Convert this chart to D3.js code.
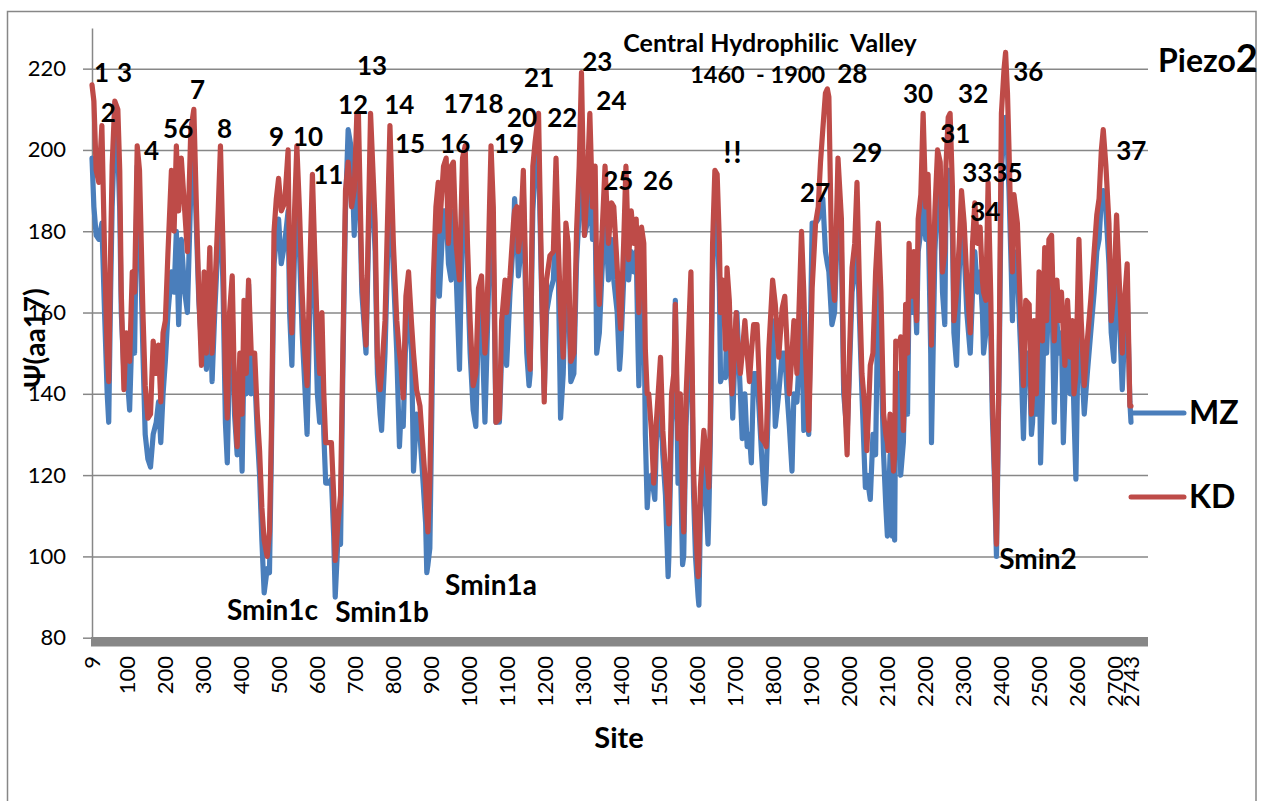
<!DOCTYPE html>
<html><head><meta charset="utf-8">
<script src="https://cdn.jsdelivr.net/npm/d3@7/dist/d3.min.js"></script>
<style>body{margin:0;background:#fff;} svg{display:block;}</style>
</head><body>
<script>
// ---- DATA ----
const sites = [
 // 9 - 683
 9,14,20,27,35,42,49,53,58,62,
 69,77,82,86,93,99,108,115,121,128,
 134,143,149,156,163,170,178,184,190,196,
 202,209,218,225,231,237,244,253,260,269,
 277,284,290,297,304,310,319,325,332,341,
 347,354,360,365,371,378,384,391,398,404,
 409,415,421,428,437,444,450,456,462,470,
 476,481,488,494,500,507,516,525,529,535,
 542,548,555,562,569,575,582,589,595,602,
 608,614,619,624,632,639,645,649,656,663,
 669,676,683,
 // 692 - 1376
 692,699,706,710,719,730,742,754,760,767,
 771,780,793,802,811,818,822,828,835,842,
 850,855,863,872,881,887,890,893,898,907,
 914,920,923,934,941,947,954,960,967,976,
 984,991,997,1004,1012,1019,1026,1034,1043,1048,
 1055,1059,1065,1072,1081,1087,1096,1100,1109,1118,
 1121,1127,1131,1137,1144,1153,1159,1162,1169,1175,
 1184,1192,1199,1205,1214,1223,1230,1236,1242,1249,
 1256,1262,1269,1277,1284,1291,1297,1305,1312,1319,
 1326,1333,1337,1344,1350,1359,1368,1376,
 // 1382 - 2064
 1382,1391,1397,1400,1408,1414,1421,1428,1435,1441,
 1446,1448,1455,1461,1465,1470,1474,1481,1487,1490,
 1494,1505,1511,1518,1525,1527,1534,1540,1544,1551,
 1557,1563,1566,1572,1579,1585,1592,1597,1604,1606,
 1610,1619,1630,1632,1636,1642,1648,1654,1660,1663,
 1669,1676,1680,1686,1693,1695,1704,1706,1715,1720,
 1727,1733,1739,1744,1750,1759,1765,1771,1779,1783,
 1790,1800,1807,1816,1825,1832,1838,1844,1851,1856,
 1864,1876,1882,1886,1895,1904,1913,1920,1926,1932,
 1939,1944,1948,1956,1963,1972,1981,1987,1996,2002,
 2009,2016,2022,2028,2035,2044,2048,2057,2064,
 // 2071 - 2743
 2071,2078,2085,2092,2098,2102,2104,2109,2115,2118,
 2121,2124,2133,2137,2144,2150,2155,2159,2165,2172,
 2179,2183,2190,2196,2203,2209,2216,2218,2227,2234,
 2241,2247,2253,2256,2262,2267,2273,2277,2284,2291,
 2297,2304,2311,2320,2326,2332,2339,2346,2352,2355,
 2361,2367,2374,2378,2384,2389,2396,2402,2409,2413,
 2418,2422,2428,2431,2435,2444,2453,2460,2466,2475,
 2481,2484,2488,2494,2501,2505,2510,2516,2521,2527,
 2534,2541,2548,2554,2560,2565,2569,2576,2583,2589,
 2593,2598,2606,2612,2620,2628,2637,2646,2653,2659,
 2665,2670,2677,2685,2691,2698,2705,2712,2720,2726,
 2733,2740,2743
];
const kd = [
 216,212,195,192,206,175,150,143,175,196,
 212,210,195,165,141,155,148,170,165,201,
 195,160,142,134,135,153,145,152,138,155,
 158,175,195,180,201,185,198,185,175,205,
 210,185,165,147,170,150,176,150,165,185,
 201,175,145,134,160,169,140,127,150,135,
 163,145,168,150,150,135,126,112,104,100,
 106,130,180,188,193,185,187,200,170,155,
 185,201,185,165,150,142,170,194,175,155,
 145,160,140,128,128,128,115,99,108,115,
 150,190,197,
 186,190,209,209,169,152,209,182,149,141,
 145,158,206,177,158,150,147,139,164,170,
 157,150,141,137,125,117,110,106,119,168,
 186,192,180,196,198,177,196,197,177,168,
 198,201,177,158,142,145,166,169,150,158,
 186,201,186,133,134,158,168,160,169,182,
 185,186,175,180,195,158,150,146,196,202,
 209,168,138,168,174,175,198,177,160,149,
 182,177,148,150,180,196,219,179,191,209,
 186,196,170,162,177,196,177,187,
 186,171,160,156,177,196,173,185,177,183,
 166,160,181,177,151,140,140,131,118,122,
 133,149,131,121,112,108,140,145,162,129,
 140,115,106,139,155,170,121,108,95,100,
 117,131,120,117,133,177,195,194,177,160,
 168,151,171,163,140,142,160,155,145,150,
 158,150,143,150,157,157,143,129,128,127,
 151,168,162,149,161,164,152,140,150,158,
 145,180,165,151,131,166,182,186,197,205,
 214,215,213,170,163,198,183,145,125,149,
 171,177,192,168,145,135,126,147,150,
 170,182,165,135,130,128,126,135,128,121,
 125,153,152,154,131,162,150,177,164,175,
 158,183,189,209,186,194,168,152,185,200,
 197,170,175,196,208,209,191,158,165,177,
 190,182,168,155,177,187,177,181,168,165,
 163,192,164,140,121,103,149,209,220,224,
 214,200,177,170,189,182,158,142,163,162,
 135,140,158,140,170,160,153,176,158,178,
 179,153,168,158,165,155,147,163,149,158,
 140,145,178,158,142,153,163,175,184,188,
 200,205,196,182,158,165,184,168,150,163,
 172,137,137
];
const mz = [
 198,186,179,178,182,160,140,133,165,186,
 205,200,185,160,145,148,136,158,150,196,
 185,150,130,124,122,130,133,138,128,140,
 148,160,170,165,180,157,178,165,160,190,
 200,180,163,152,160,146,165,143,160,178,
 190,165,133,123,150,160,135,125,140,121,
 150,140,167,140,145,130,120,104,91,97,
 96,125,172,178,183,172,177,185,160,147,
 175,195,175,155,142,130,160,185,165,140,
 133,150,130,118,118,119,105,90,104,103,
 145,185,205,
 200,179,195,200,165,150,200,175,145,135,
 131,150,195,170,150,127,135,132,155,160,
 150,121,135,130,117,108,96,98,102,160,
 175,180,164,185,185,172,168,185,170,146,
 185,190,170,150,136,132,158,160,133,150,
 175,190,175,133,133,150,160,147,165,178,
 188,180,169,175,190,150,142,145,185,195,
 200,165,140,160,165,168,185,170,134,145,
 170,168,143,145,172,185,200,179,182,195,
 178,185,150,155,168,185,168,178,
 168,160,146,150,168,180,168,175,170,175,
 150,142,170,165,130,112,118,120,116,114,
 128,140,125,115,95,100,133,140,163,118,
 125,98,100,132,148,160,115,100,90,88,
 110,125,103,110,128,170,185,185,165,143,
 145,144,160,150,140,134,158,160,140,129,
 140,127,130,123,145,145,135,125,113,120,
 140,158,132,140,150,150,140,132,121,140,
 138,160,131,140,130,182,182,183,185,188,
 175,172,170,157,160,185,175,140,130,145,
 165,170,180,160,140,117,120,114,130,
 125,170,150,125,112,105,110,125,105,110,
 104,140,145,120,128,150,135,165,160,170,
 155,175,180,190,178,185,150,128,175,190,
 188,165,157,185,195,195,180,155,147,170,
 185,175,160,150,165,175,165,170,160,150,
 155,180,155,135,118,100,145,195,205,208,
 200,190,170,158,175,170,150,129,150,150,
 130,133,145,135,160,123,140,165,150,165,
 170,133,158,150,155,128,140,150,140,150,
 135,119,165,150,135,145,155,165,175,178,
 188,190,185,172,155,148,175,160,141,155,
 165,138,133
];
const yTicks = [80,100,120,140,160,180,200,220];
const xTicks = [9,100,200,300,400,500,600,700,800,900,1000,1100,1200,1300,1400,1500,1600,1700,1800,1900,2000,2100,2200,2300,2400,2500,2600,2700,2743];
const seriesNames = ["MZ","KD"];
// annotation labels anchored at (site, value)
const peakLabels = [
 ["1",14,216.7],["3",75,216.7],["2",32,206.9],["4",146,197.5],["56",196,202.9],["7",267,212.6],
 ["8",338,202.9],["9",475,201.0],["10",538,201.0],["11",591,191.6],["12",656,208.9],["13",706,218.5],
 ["14",778,208.9],["15",806,199.3],["16",925,199.3],["1718",933,209.1],["19",1067,199.3],["20",1101,205.7],
 ["21",1146,215.5],["22",1207,205.7],["23",1299,219.5],["24",1336,209.9],["25",1354,190.2],["26",1459,190.2],
 ["!!",1670,196.9],["27",1872,187.2],["28",1970,216.5],["29",2009,197.1],["30",2143,211.6],["32",2288,211.6],
 ["31",2241,201.8],["36",2433,216.9],["3335",2299,192.1],["34",2320,182.5],["37",2704,197.6]
];
const minLabels = [["Smin1c",364,84.3],["Smin1b",649,83.9],["Smin1a",938,90.5],["Smin2",2396,96.9]];
const noteLabels = [["Central Hydrophilic  Valley",1407,224.1,25],["1460  - 1900",1583,216.5,23.5]];

// ---- DRAW ----
const W=1261,H=801;
const FONT="Lato, 'Open Sans', sans-serif";
const GRID="#878787";
const COL={MZ:"#4A7EBB",KD:"#BE4B48"};
const svg=d3.select("body").append("svg").attr("width",W).attr("height",H);
svg.append("rect").attr("width",W).attr("height",H).attr("fill","#fff");
svg.append("rect").attr("x",7.5).attr("y",11.5).attr("width",1248.5).attr("height",820)
  .attr("fill","none").attr("stroke",GRID).attr("stroke-width",1.5);

const x=d3.scaleLinear().domain([9,2743]).range([92,1131]);
const y=d3.scaleLinear().domain([80,230]).range([637.7,28]);
const plotRight=1148;

// gridlines
svg.append("g").attr("transform","translate(92,0)")
  .call(d3.axisLeft(y).tickValues(yTicks.filter(t=>t>80)).tickSize(-(plotRight-92)).tickFormat(""))
  .call(g=>g.select(".domain").remove())
  .call(g=>g.selectAll("line").attr("stroke",GRID).attr("stroke-width",1.5));

// y axis
const ya=svg.append("g").attr("transform","translate(92,0)")
  .call(d3.axisLeft(y).tickValues(yTicks).tickSize(9).tickPadding(17).tickSizeOuter(0));
ya.select(".domain").attr("stroke",GRID).attr("stroke-width",1.5);
ya.selectAll(".tick line").attr("stroke",GRID).attr("stroke-width",1.5);
ya.selectAll("text").attr("font-family",FONT).attr("font-size",22).attr("fill","#000");

// x axis band
svg.append("rect").attr("x",91).attr("y",637).attr("width",plotRight-91).attr("height",9.5).attr("fill",GRID);
const xa=svg.append("g").attr("transform","translate(0,646)")
  .call(d3.axisBottom(x).tickValues(xTicks).tickSize(0).tickFormat(d3.format("d")));
xa.select(".domain").remove();
xa.selectAll("text").attr("font-family",FONT).attr("font-size",22).attr("fill","#000")
  .attr("transform","rotate(-90)").attr("text-anchor","end").attr("x",-10).attr("y",0).attr("dy","0.36em");

// lines
const pts = v => sites.map((s,i)=>[s,v[i]]);
const line=d3.line().x(d=>x(d[0])).y(d=>y(d[1]));
[["MZ",mz],["KD",kd]].forEach(([n,v])=>{
  svg.append("path").attr("d",line(pts(v))).attr("fill","none").attr("stroke",COL[n])
    .attr("stroke-width",5.2).attr("stroke-linejoin","round").attr("stroke-linecap","round");
});

// legend
seriesNames.forEach((n,i)=>{
  const ly=413+i*84;
  svg.append("line").attr("x1",1131).attr("x2",1184).attr("y1",ly).attr("y2",ly)
    .attr("stroke",COL[n]).attr("stroke-width",5).attr("stroke-linecap","round");
  svg.append("text").attr("x",1189).attr("y",ly+11).attr("font-family",FONT).attr("font-weight","bold")
    .attr("font-size",32).text(n);
});

// annotation labels
const ann=svg.append("g").attr("font-family",FONT).attr("font-weight","bold").attr("fill","#000");
peakLabels.forEach(([t,s,v])=>ann.append("text").attr("x",x(s)).attr("y",y(v)).attr("font-size",26)
  .attr("letter-spacing",t==="!!"?"1.5px":null).attr("font-size",t==="!!"?30:26).text(t));
minLabels.forEach(([t,s,v])=>ann.append("text").attr("x",x(s)).attr("y",y(v)).attr("font-size",28).text(t));
noteLabels.forEach(([t,s,v,f])=>ann.append("text").attr("x",x(s)).attr("y",y(v)).attr("font-size",f)
  .attr("xml:space","preserve").style("white-space","pre").text(t));

// title
const tt=svg.append("text").attr("x",1158).attr("y",72).attr("font-family",FONT).attr("font-weight","bold");
tt.append("tspan").attr("font-size",32).text("Piezo");
tt.append("tspan").attr("font-size",38).text("2");

// axis titles
svg.append("text").attr("x",619).attr("y",748).attr("text-anchor","middle").attr("font-family",FONT)
  .attr("font-weight","bold").attr("font-size",29).text("Site");
svg.append("text").attr("transform","translate(45,338) rotate(-90)").attr("text-anchor","middle")
  .attr("font-family",FONT).attr("font-weight","bold").attr("font-size",28).text("Ψ(aa17)");
</script>
</body></html>
